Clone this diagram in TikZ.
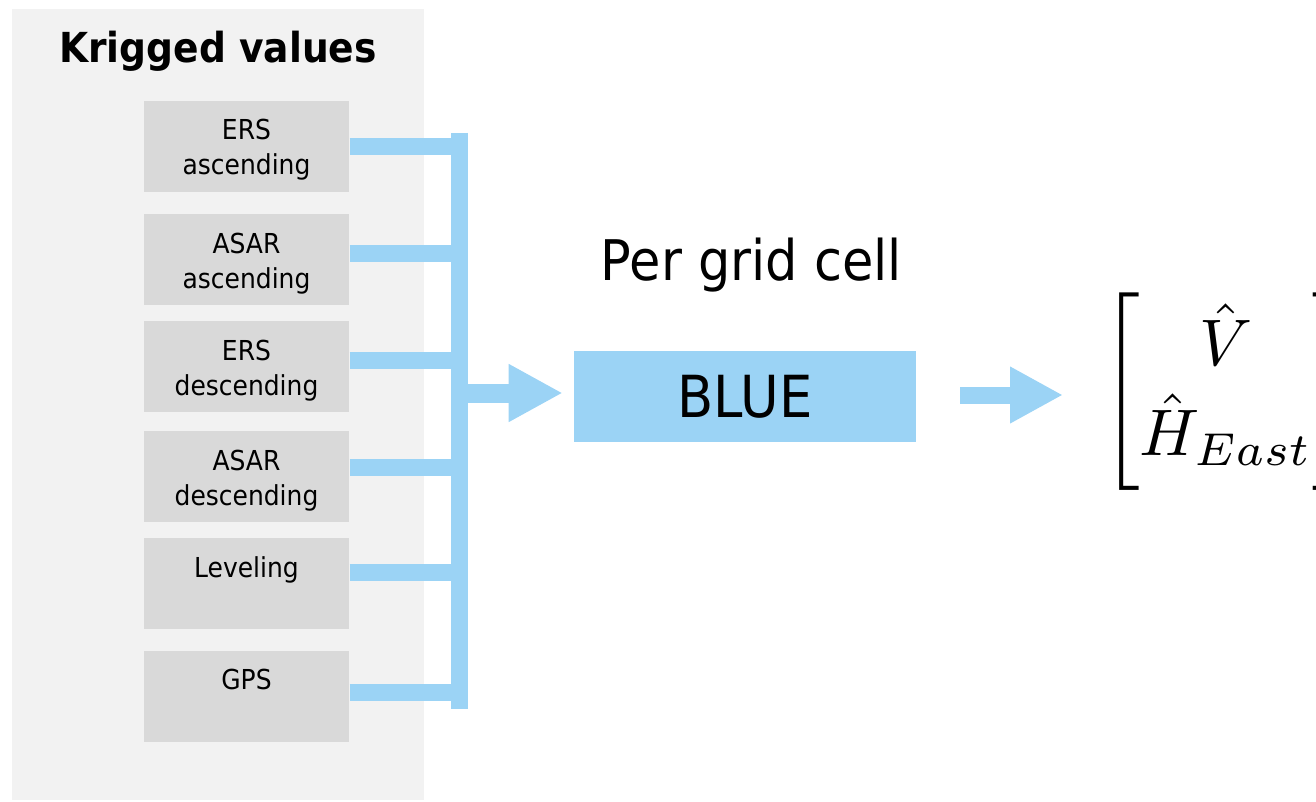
\documentclass[tikz,border=0pt]{standalone}
\usepackage{amsmath}
\usepackage{graphicx}
\usepackage{fontspec}
\setmainfont{DejaVu Sans}[FakeStretch=0.91]
\usetikzlibrary{arrows.meta}
\definecolor{panel}{HTML}{F2F2F2}
\definecolor{boxgray}{HTML}{D9D9D9}
\definecolor{lblue}{HTML}{9BD3F5}
\tikzset{
  srcbox/.style={fill=boxgray, draw=none, minimum width=205*0.75pt, minimum height=91*0.75pt, inner sep=0pt, anchor=north west},
  srclbl/.style={font=\fontsize{20.6}{25}\selectfont, anchor=base, inner sep=0pt},
  busline/.style={draw=lblue, line width=12.75pt},
  fatarrow/.style={draw=lblue, line width=14.25pt, -{Triangle[length=40.5pt,width=40.5pt]}},
  fatarrowb/.style={draw=lblue, line width=12.75pt, -{Triangle[length=39.75pt,width=39.75pt]}},
}
\begin{document}
\begin{tikzpicture}[x=0.75pt,y=-0.75pt]
\useasboundingbox (0,0) rectangle (1316,802);
\clip (0,0) rectangle (1316,802);
% panel
\fill[panel] (12,9) rectangle (424,800);
\node[anchor=base, inner sep=0pt, font=\bfseries\fontsize{31}{37}\selectfont] (title) at (218,63) {Krigged values};
% source boxes
\node[srcbox] (b1) at (144,101) {};
\node[srcbox] (b2) at (144,214) {};
\node[srcbox] (b3) at (144,321) {};
\node[srcbox] (b4) at (144,431) {};
\node[srcbox] (b5) at (144,538) {};
\node[srcbox] (b6) at (144,651) {};
\node[srclbl] (l1a) at (246.5,140) {ERS};
\node[srclbl] (l1b) at (246.5,175) {ascending};
\node[srclbl] (l2a) at (246.5,253) {ASAR};
\node[srclbl] (l2b) at (246.5,288) {ascending};
\node[srclbl] (l3a) at (246.5,360) {ERS};
\node[srclbl] (l3b) at (246.5,395) {descending};
\node[srclbl] (l4a) at (246.5,470) {ASAR};
\node[srclbl] (l4b) at (246.5,505) {descending};
\node[srclbl] (l5) at (246.5,577) {Leveling};
\node[srclbl] (l6) at (246.5,689) {GPS};
% bus
\coordinate (bustop) at (459.5,133);
\coordinate (busbot) at (459.5,709);
\draw[busline] (bustop) -- (busbot);
\draw[busline] ([yshift=0.375pt]b1.east) coordinate (s1) -- (s1 -| bustop);
\draw[busline] ([yshift=4.875pt]b2.east) coordinate (s2) -- (s2 -| bustop);
\draw[busline] ([yshift=4.875pt]b3.east) coordinate (s3) -- (s3 -| bustop);
\draw[busline] ([yshift=6.75pt]b4.east) coordinate (s4) -- (s4 -| bustop);
\draw[busline] ([yshift=8.625pt]b5.east) coordinate (s5) -- (s5 -| bustop);
\draw[busline] ([yshift=3.375pt]b6.east) coordinate (s6) -- (s6 -| bustop);
% BLUE
\node[fill=lblue, draw=none, minimum width=342*0.75pt, minimum height=91*0.75pt, inner sep=0pt, font=\fontsize{43.5}{52}\selectfont] (blue) at (745,396.5) {BLUE};
\node[anchor=base, inner sep=0pt, font=\fontsize{42}{50}\selectfont] (pergrid) at (751.5,280) {Per grid cell};
\coordinate (a1) at (459.5,393);
\draw[fatarrow, shorten >=8.25pt] (a1) -- (a1 -| blue.west);
% result
\node[anchor=west, inner sep=0pt] (mat) at (1101,391.5) {\scalebox{4.94}{\normalsize$\left[\begin{matrix}\hat{V}\\[0.6pt] \hat{H}_{East}\end{matrix}\right]$}};
\coordinate (a2) at (960,395);
\coordinate (a2tip) at (1063,395);
\draw[fatarrowb] (a2) -- (a2tip);
\end{tikzpicture}
\end{document}
